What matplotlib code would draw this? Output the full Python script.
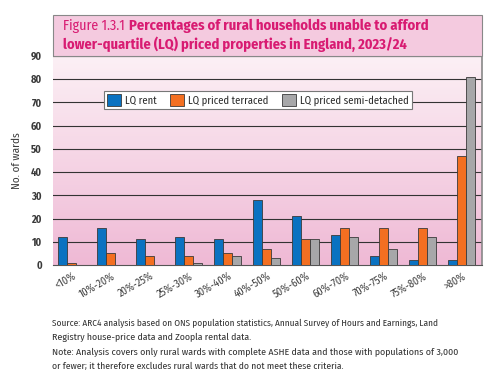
import numpy as np
import matplotlib.pyplot as plt
from matplotlib.patches import Rectangle
from matplotlib.colors import LinearSegmentedColormap

categories = ['<10%', '10%-20%', '20%-25%', '25%-30%', '30%-40%', '40%-50%',
              '50%-60%', '60%-70%', '70%-75%', '75%-80%', '>80%']
lq_rent = [12, 16, 11, 12, 11, 28, 21, 13, 4, 2, 2]
lq_terraced = [1, 5, 4, 4, 5, 7, 11, 16, 16, 16, 47]
lq_semi = [0, 0, 0, 1, 4, 3, 11, 12, 7, 12, 81]
series_names = ['LQ rent', 'LQ priced terraced', 'LQ priced semi-detached']
colors = ['#0a72c1', '#f36f21', '#a7a7a9']

plt.rcParams['font.family'] = ['Fira Sans Condensed', 'DejaVu Sans']

W, H = 500, 384
fig = plt.figure(figsize=(5, 3.84), dpi=100)
renderer = fig.canvas.get_renderer()

def fx(px):
    return px / W

def fy(py):
    return 1 - py / H

def fit_text(px, py, s, width, **kw):
    # place text, then rescale font so it spans `width` pixels like the reference
    t = fig.text(fx(px), fy(py), s, fontsize=10, **kw)
    w0 = t.get_window_extent(renderer).width
    t.set_fontsize(10 * width / w0)
    return t

left, right, top, bottom = 53, 482, 56, 265
ax = fig.add_axes([fx(left), fy(bottom), fx(right - left), fy(top) - fy(bottom)])

# pink gradient background
grad = np.linspace(0, 1, 256).reshape(-1, 1)
cm = LinearSegmentedColormap.from_list('pk', ['#fcf0f5', '#efb9d5'])
ax.imshow(grad, extent=[-0.5, len(categories) - 0.5, 0, 90], aspect='auto',
          cmap=cm, origin='upper', zorder=0)

x = np.arange(len(categories))
w = 0.23
for i, (vals, c, name) in enumerate(zip([lq_rent, lq_terraced, lq_semi], colors, series_names)):
    ax.bar(x + (i - 1) * w - 0.03, vals, w, color=c, edgecolor='#3a3a3a', linewidth=0.6,
           label=name, zorder=3)

ax.set_xlim(-0.5, len(categories) - 0.5)
ax.set_ylim(0, 90)
ax.set_yticks(range(0, 91, 10))
for yv in range(10, 91, 10):
    ax.axhline(yv, color='#333333', lw=0.8, zorder=1)
ax.tick_params(axis='y', labelsize=7.5, length=0, pad=8, labelcolor='#3a3a3a')
for t in ax.get_yticklabels():
    t.set_fontweight('bold')
ax.set_xticks(x)
ax.set_xticklabels(categories, rotation=30, ha='right', rotation_mode='anchor',
                   fontsize=7.5, color='#3a3a3a')
ax.tick_params(axis='x', length=0, pad=4)
ax.set_ylabel('No. of wards', fontsize=8, color='#3a3a3a', labelpad=6)
for s in ['left', 'top']:
    ax.spines[s].set_visible(False)
ax.spines['bottom'].set_color('#555555')
ax.spines['right'].set_color('#888888')
ax.spines['right'].set_linewidth(1.2)

leg = ax.legend(loc='upper center', bbox_to_anchor=(0.478, 0.857), ncol=3, fontsize=7.6,
                frameon=True, fancybox=False, edgecolor='#777777', framealpha=1,
                handlelength=1.3, handleheight=1.3, columnspacing=1.3, handletextpad=0.4,
                borderpad=0.3)
leg.get_frame().set_linewidth(0.8)
for t in leg.get_texts():
    t.set_color('#2a2a2a')

# title band
fig.patches.append(Rectangle((fx(left), fy(top)), fx(right - left), fy(15) - fy(top),
                             transform=fig.transFigure, facecolor='#f4cadf',
                             edgecolor='#888888', lw=0.8, zorder=0))
magenta = '#d81b72'
fit_text(63, 26, 'Figure 1.3.1', 62, color=magenta, va='center')
fit_text(129, 26, 'Percentages of rural households unable to afford', 301,
         color=magenta, va='center', fontweight='bold')
fit_text(63, 44, 'lower-quartile (LQ) priced properties in England, 2023/24', 344,
         color=magenta, va='center', fontweight='bold')

# source notes
notes = ['Source: ARC4 analysis based on ONS population statistics, Annual Survey of Hours and Earnings, Land',
         'Registry house-price data and Zoopla rental data.',
         'Note: Analysis covers only rural wards with complete ASHE data and those with populations of 3,000',
         'or fewer; it therefore excludes rural wards that do not meet these criteria.']
widths = [384, 200, 406, 291]
for i, (line, wd) in enumerate(zip(notes, widths)):
    fit_text(52, 323 + i * 14.5, line, wd, color='#333333', va='center')

fig.savefig('out.png', dpi=100)
